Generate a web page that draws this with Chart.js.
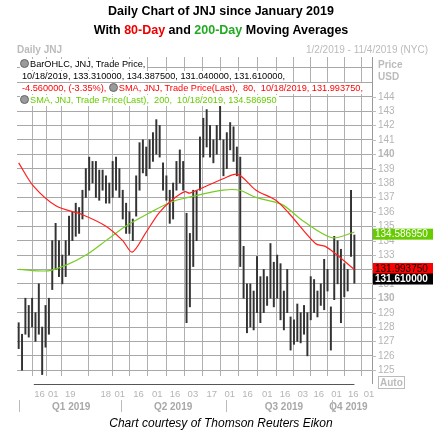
<!DOCTYPE html>
<html><head><meta charset="utf-8">
<script src="https://cdn.jsdelivr.net/npm/chart.js@4"></script>
<style>
body{margin:0;width:442px;height:441px;background:#fff;position:relative;overflow:hidden;font-family:"Liberation Sans",Arial,sans-serif}
#c{position:absolute;left:0;top:0}
.t{position:absolute;left:0;width:442px;text-align:center;font-weight:bold;font-size:12.5px;color:#000}
.lg{position:absolute;left:20px;font-size:9.2px;background:#fff;white-space:nowrap;line-height:11px;padding-right:2px}
.ic{display:inline-block;width:7px;height:7px;border-radius:50%;background:#9a9a9a;border:1px solid #666;margin-right:1px;vertical-align:-1px}
</style></head><body>
<canvas id="c" width="442" height="441"></canvas>
<div class="t" style="top:4px">Daily Chart of JNJ since January 2019</div>
<div class="t" style="top:23px">With <span style="color:#e00">80-Day</span> and <span style="color:#2a2">200-Day</span> Moving Averages</div>
<div style="position:absolute;left:17px;top:44px;font-size:10px;color:#bbb;font-weight:bold">Daily JNJ</div>
<div style="position:absolute;right:14px;top:44px;font-size:10px;color:#bbb">1/2/2019 - 11/4/2019 (NYC)</div>
<div style="position:absolute;left:378px;top:59px;font-size:10px;color:#bbb;font-weight:bold;line-height:12px">Price<br>USD</div>
<div class="lg" style="top:59px"><span class="ic"></span>BarOHLC, JNJ, Trade Price,</div>
<div class="lg" style="top:71px;left:22px">10/18/2019, 133.310000, 134.387500, 131.040000, 131.610000,</div>
<div class="lg" style="top:83px;left:22px;color:#f00">-4.560000, (-3.35%), <span class="ic"></span>SMA, JNJ, Trade Price(Last),&nbsp; 80,&nbsp; 10/18/2019, 131.993750,</div>
<div class="lg" style="top:95px;color:#6c0"><span class="ic"></span>SMA, JNJ, Trade Price(Last),&nbsp; 200,&nbsp; 10/18/2019, 134.586950</div>
<div style="position:absolute;left:378px;top:376px;font-size:10px;color:#bbb;font-weight:bold;border:1px solid #bbb;padding:0 1px;line-height:11px">Auto</div>
<div style="position:absolute;left:0;width:442px;top:416px;text-align:center;font-style:italic;font-size:12px">Chart courtesy of Thomson Reuters Eikon</div>
<script>
const barDays=[];for(let d=0;d<=200;d+=2)barDays.push(d);
const lows=[126.5,125.0,127.5,127.3,128.0,127.0,127.5,124.7,126.6,127.5,130.6,132.0,131.5,131.0,131.5,133.0,134.0,134.3,134.5,135.5,137.0,137.5,138.0,137.0,136.8,137.5,136.6,136.6,137.0,137.5,137.0,135.5,134.5,134.5,134.0,135.7,137.5,138.7,138.5,139.0,139.5,140.0,139.8,137.5,136.8,135.2,135.5,137.5,138.0,137.5,128.3,129.4,132.2,134.0,137.5,139.8,140.5,139.8,139.4,140.0,141.0,138.5,139.0,140.3,139.5,138.5,132.2,130.0,127.6,128.0,127.8,129.0,128.3,129.0,129.5,130.0,129.4,130.0,128.5,127.8,129.0,126.4,126.8,127.0,126.9,127.5,126.0,128.5,129.0,128.7,129.5,129.2,130.5,126.4,129.9,131.0,128.3,130.1,130.5,132.9,131.04];
const highs=[128.3,127.5,130.0,129.5,130.0,129.0,131.0,128.0,129.5,130.0,134.0,135.2,134.0,133.0,134.0,135.7,136.0,136.6,136.3,137.5,139.0,139.8,139.5,139.5,138.9,138.9,138.5,138.0,139.5,139.8,139.0,137.5,136.6,136.0,135.5,138.5,140.8,141.0,140.5,141.0,141.5,142.4,142.0,139.4,138.5,137.5,138.0,139.5,140.3,139.5,135.9,134.5,137.5,137.5,141.2,142.5,143.1,142.0,141.0,142.0,143.5,141.0,141.5,142.2,141.9,140.5,139.8,133.6,131.0,131.0,130.5,132.9,131.5,132.0,131.5,133.8,132.5,133.0,132.4,130.5,132.0,128.7,128.5,129.6,129.0,129.5,129.0,131.5,131.3,130.5,131.0,132.7,132.0,129.4,134.3,134.0,133.4,132.4,132.0,137.5,134.39];
const sma80Days=[0,8.7,22.4,38,52,62,67.6,75.5,83.4,91.2,99,102,121.8,130.6,141.4,153.2,161,176.8,182.7,188.6,200];
const sma80Vals=[139.4,137.8,136.4,135.8,135.0,134.0,133.2,134.5,135.9,136.8,137.4,137.3,138.3,138.6,137.5,136.8,135.9,133.8,133.6,133.1,131.99];
const sma200Days=[0,17.5,28.3,40.1,52,63.7,77.5,91.2,101,121.8,131.6,141.4,157,169,186.7,200];
const sma200Vals=[132,131.9,132.3,133,134,135,135.9,136.7,137,137.5,137.5,137,136.5,135.4,134.2,134.59];
const dateTickDays=[12.4,20.6,30.7,51.9,60.2,71.4,82.6,93.2,103.8,115,125.7,136.3,148.1,158.7,169.3,178.8,189.4,199.4,208.7];
const dateTickLabels=['16','01','19','18','01','16','01','16','03','17','01','16','01','16','03','16','01','16','01'];
const quarterDays=[31.3,92,158,196.5];
const quarterLabels=['Q1 2019','Q2 2019','Q3 2019','Q4 2019'];
const quarterSeps=[0,60.8,123.3,186.4];
const priceTicks=[125,126,127,128,129,130,131,132,133,134,135,136,137,138,139,140,141,142,143,144];
const lastVals=[{v:134.58695,t:'134.586950',bg:'#66cc00',fg:'#fff',b:false},{v:131.99375,t:'131.993750',bg:'#ff0000',fg:'#000',b:false},{v:131.61,t:'131.610000',bg:'#000',fg:'#fff',b:true}];

const deco={id:'deco',afterDraw(ch){
 const c=ch.ctx,x=ch.scales.x,y=ch.scales.y,a=ch.chartArea;
 c.save();
 c.strokeStyle='#999';c.lineWidth=1;
 c.beginPath();c.moveTo(a.right+0.5,a.top);c.lineTo(a.right+0.5,a.bottom+8);c.stroke();
 c.textBaseline='middle';
 priceTicks.forEach(p=>{const py=Math.round(y.getPixelForValue(p))+0.5;
  c.strokeStyle='#bbb';c.beginPath();c.moveTo(a.right,py);c.lineTo(a.right+4,py);c.stroke();
  c.fillStyle='#b5b5b5';c.font=(p%10===0?'bold ':'')+'10px "Liberation Sans",Arial';
  c.fillText(String(p),a.right+6,py);});
 c.strokeStyle='#555';c.beginPath();c.moveTo(x.getPixelForValue(9),a.bottom+8.5);c.lineTo(x.getPixelForValue(200),a.bottom+8.5);c.stroke();
 c.font='9.5px "Liberation Sans",Arial';c.textAlign='center';c.fillStyle='#b5b5b5';
 dateTickDays.forEach((d,i)=>c.fillText(dateTickLabels[i],x.getPixelForValue(d),a.bottom+18));
 c.font='bold 10px "Liberation Sans",Arial';c.fillStyle='#a8a8a8';
 quarterDays.forEach((d,i)=>c.fillText(quarterLabels[i],x.getPixelForValue(d),a.bottom+31));
 c.strokeStyle='#bbb';
 quarterSeps.forEach(d=>{const px=Math.round(x.getPixelForValue(d))+0.5;c.beginPath();c.moveTo(px,a.bottom+24);c.lineTo(px,a.bottom+36);c.stroke();});
 c.textAlign='left';
 let prev=-1e9;
 lastVals.forEach((o,i)=>{let py=y.getPixelForValue(o.v)+2;if(i===1)py-=3;if(py<prev+10.5)py=prev+10.5;prev=py;
  c.fillStyle=o.bg;c.fillRect(a.right+1,py-5.5,60,11);
  c.fillStyle=o.fg;c.font=(o.b?'bold ':'')+'10px "Liberation Sans",Arial';c.fillText(o.t,a.right+3,py+0.5);});
 c.restore();}};

new Chart(document.getElementById('c'),{
 type:'bar',
 data:{datasets:[
  {type:'line',data:sma200Days.map((d,i)=>({x:d,y:sma200Vals[i]})),borderColor:'#77cc22',borderWidth:1.2,pointRadius:0,tension:0.3,order:1},
  {type:'line',data:sma80Days.map((d,i)=>({x:d,y:sma80Vals[i]})),borderColor:'#ff2020',borderWidth:1.2,pointRadius:0,tension:0.3,order:0},
  {type:'bar',data:barDays.map((d,i)=>({x:d,y:[lows[i],highs[i]]})),backgroundColor:'#333',barThickness:1.3,order:2}
 ]},
 options:{responsive:false,animation:false,events:[],
  layout:{padding:{left:17,top:57,right:70,bottom:65}},
  plugins:{legend:{display:false},tooltip:{enabled:false}},
  scales:{
   x:{type:'linear',min:-1,max:210.5,offset:false,border:{display:false},
     grid:{color:'#b0b0b0',drawTicks:false},ticks:{display:false},
     afterBuildTicks:s=>{s.ticks=dateTickDays.map(v=>({value:v}));}},
   y:{position:'right',min:124.6,max:146.75,border:{display:false},
     grid:{color:'#a8a8a8',drawTicks:false},ticks:{display:false},
     afterBuildTicks:s=>{const t=[];for(let p=125;p<=146;p++)t.push({value:p});s.ticks=t;}}
  }},
 plugins:[deco]});
</script></body></html>
